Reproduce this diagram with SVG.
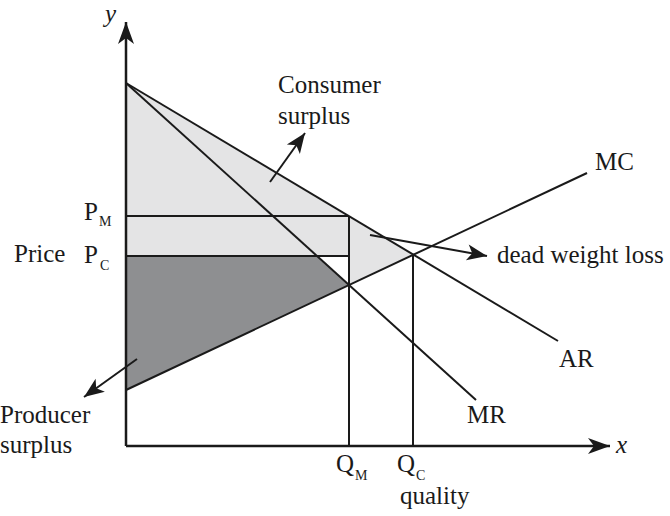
<svg xmlns="http://www.w3.org/2000/svg" width="670" height="516" viewBox="0 0 670 516">
<style>
text{font-family:"Liberation Serif","Times New Roman",serif;fill:#1a1a1a}
.t{font-size:25px}
.s{font-size:14px}
.ln{stroke:#1a1a1a;stroke-width:2;fill:none}
.ax{stroke:#1a1a1a;stroke-width:2.5;fill:none}
.lt{fill:#e4e4e5}
.dk{fill:#8e8f91}
</style>
<defs>
<marker id="ah" markerUnits="userSpaceOnUse" markerWidth="26" markerHeight="20" viewBox="-24 -10 26 20" refX="0" refY="0" orient="auto">
<path d="M0,0 L-22,-8 L-16,0 L-22,8 Z" fill="#1a1a1a"/>
</marker>
<marker id="ah2" markerUnits="userSpaceOnUse" markerWidth="24" markerHeight="20" viewBox="-22 -10 24 20" refX="0" refY="0" orient="auto">
<path d="M0,0 L-20,-8 L-15,0 L-20,8 Z" fill="#1a1a1a"/>
</marker>
</defs>
<rect width="670" height="516" fill="#ffffff"/>
<g id="areas">
<polygon class="lt" points="126,83 349,216 126,216"/>
<rect class="lt" x="126" y="216" width="223" height="40"/>
<polygon class="lt" points="349,216 413,255 349,285"/>
<polygon class="dk" points="126,256 317,256 349,285 126,390"/>
</g>
<g id="curves">
<line id="AR" class="ln" x1="126" y1="83" x2="558" y2="341"/>
<line id="MR" class="ln" x1="126" y1="83" x2="476" y2="400"/>
<line id="MC" class="ln" x1="126" y1="390" x2="587" y2="173"/>
<line class="ln" x1="126" y1="216" x2="349" y2="216"/>
<line class="ln" x1="126" y1="256" x2="349" y2="256"/>
<line class="ln" x1="349" y1="216" x2="349" y2="446"/>
<line class="ln" x1="413" y1="255" x2="413" y2="446"/>
</g>
<g id="axes">
<line class="ax" x1="126" y1="446" x2="126" y2="22" marker-end="url(#ah)"/>
<line class="ax" x1="126" y1="446" x2="610" y2="446" marker-end="url(#ah)"/>
</g>
<g id="connectors">
<line class="ln" x1="270" y1="182" x2="305" y2="133" marker-end="url(#ah2)"/>
<line class="ln" x1="370" y1="235" x2="487" y2="256" marker-end="url(#ah2)"/>
<line class="ln" x1="137" y1="359" x2="84" y2="397" marker-end="url(#ah2)"/>
</g>
<g id="label-y"><text class="t" x="105" y="22" font-style="italic">y</text></g>
<g id="label-x"><text class="t" x="616" y="453" font-style="italic">x</text></g>
<g id="consumer-surplus"><text class="t" x="278" y="93">Consumer</text><text class="t" x="278" y="124">surplus</text></g>
<g id="label-MC"><text class="t" x="595" y="170">MC</text></g>
<g id="dwl"><text class="t" x="497" y="263">dead weight loss</text></g>
<g id="label-AR"><text class="t" x="559" y="367">AR</text></g>
<g id="label-MR"><text class="t" x="467" y="423">MR</text></g>
<g id="price"><text class="t" x="14" y="262">Price</text></g>
<g id="PM"><text class="t" x="84" y="220">P</text><text class="s" x="99" y="226">M</text></g>
<g id="PC"><text class="t" x="84" y="263">P</text><text class="s" x="100" y="270">C</text></g>
<g id="producer-surplus"><text class="t" x="0" y="423">Producer</text><text class="t" x="0" y="453">surplus</text></g>
<g id="QM"><text class="t" x="336" y="472">Q</text><text class="s" x="355" y="480">M</text></g>
<g id="QC"><text class="t" x="397" y="472">Q</text><text class="s" x="416" y="480">C</text></g>
<g id="quality"><text class="t" x="400" y="504">quality</text></g>
</svg>
